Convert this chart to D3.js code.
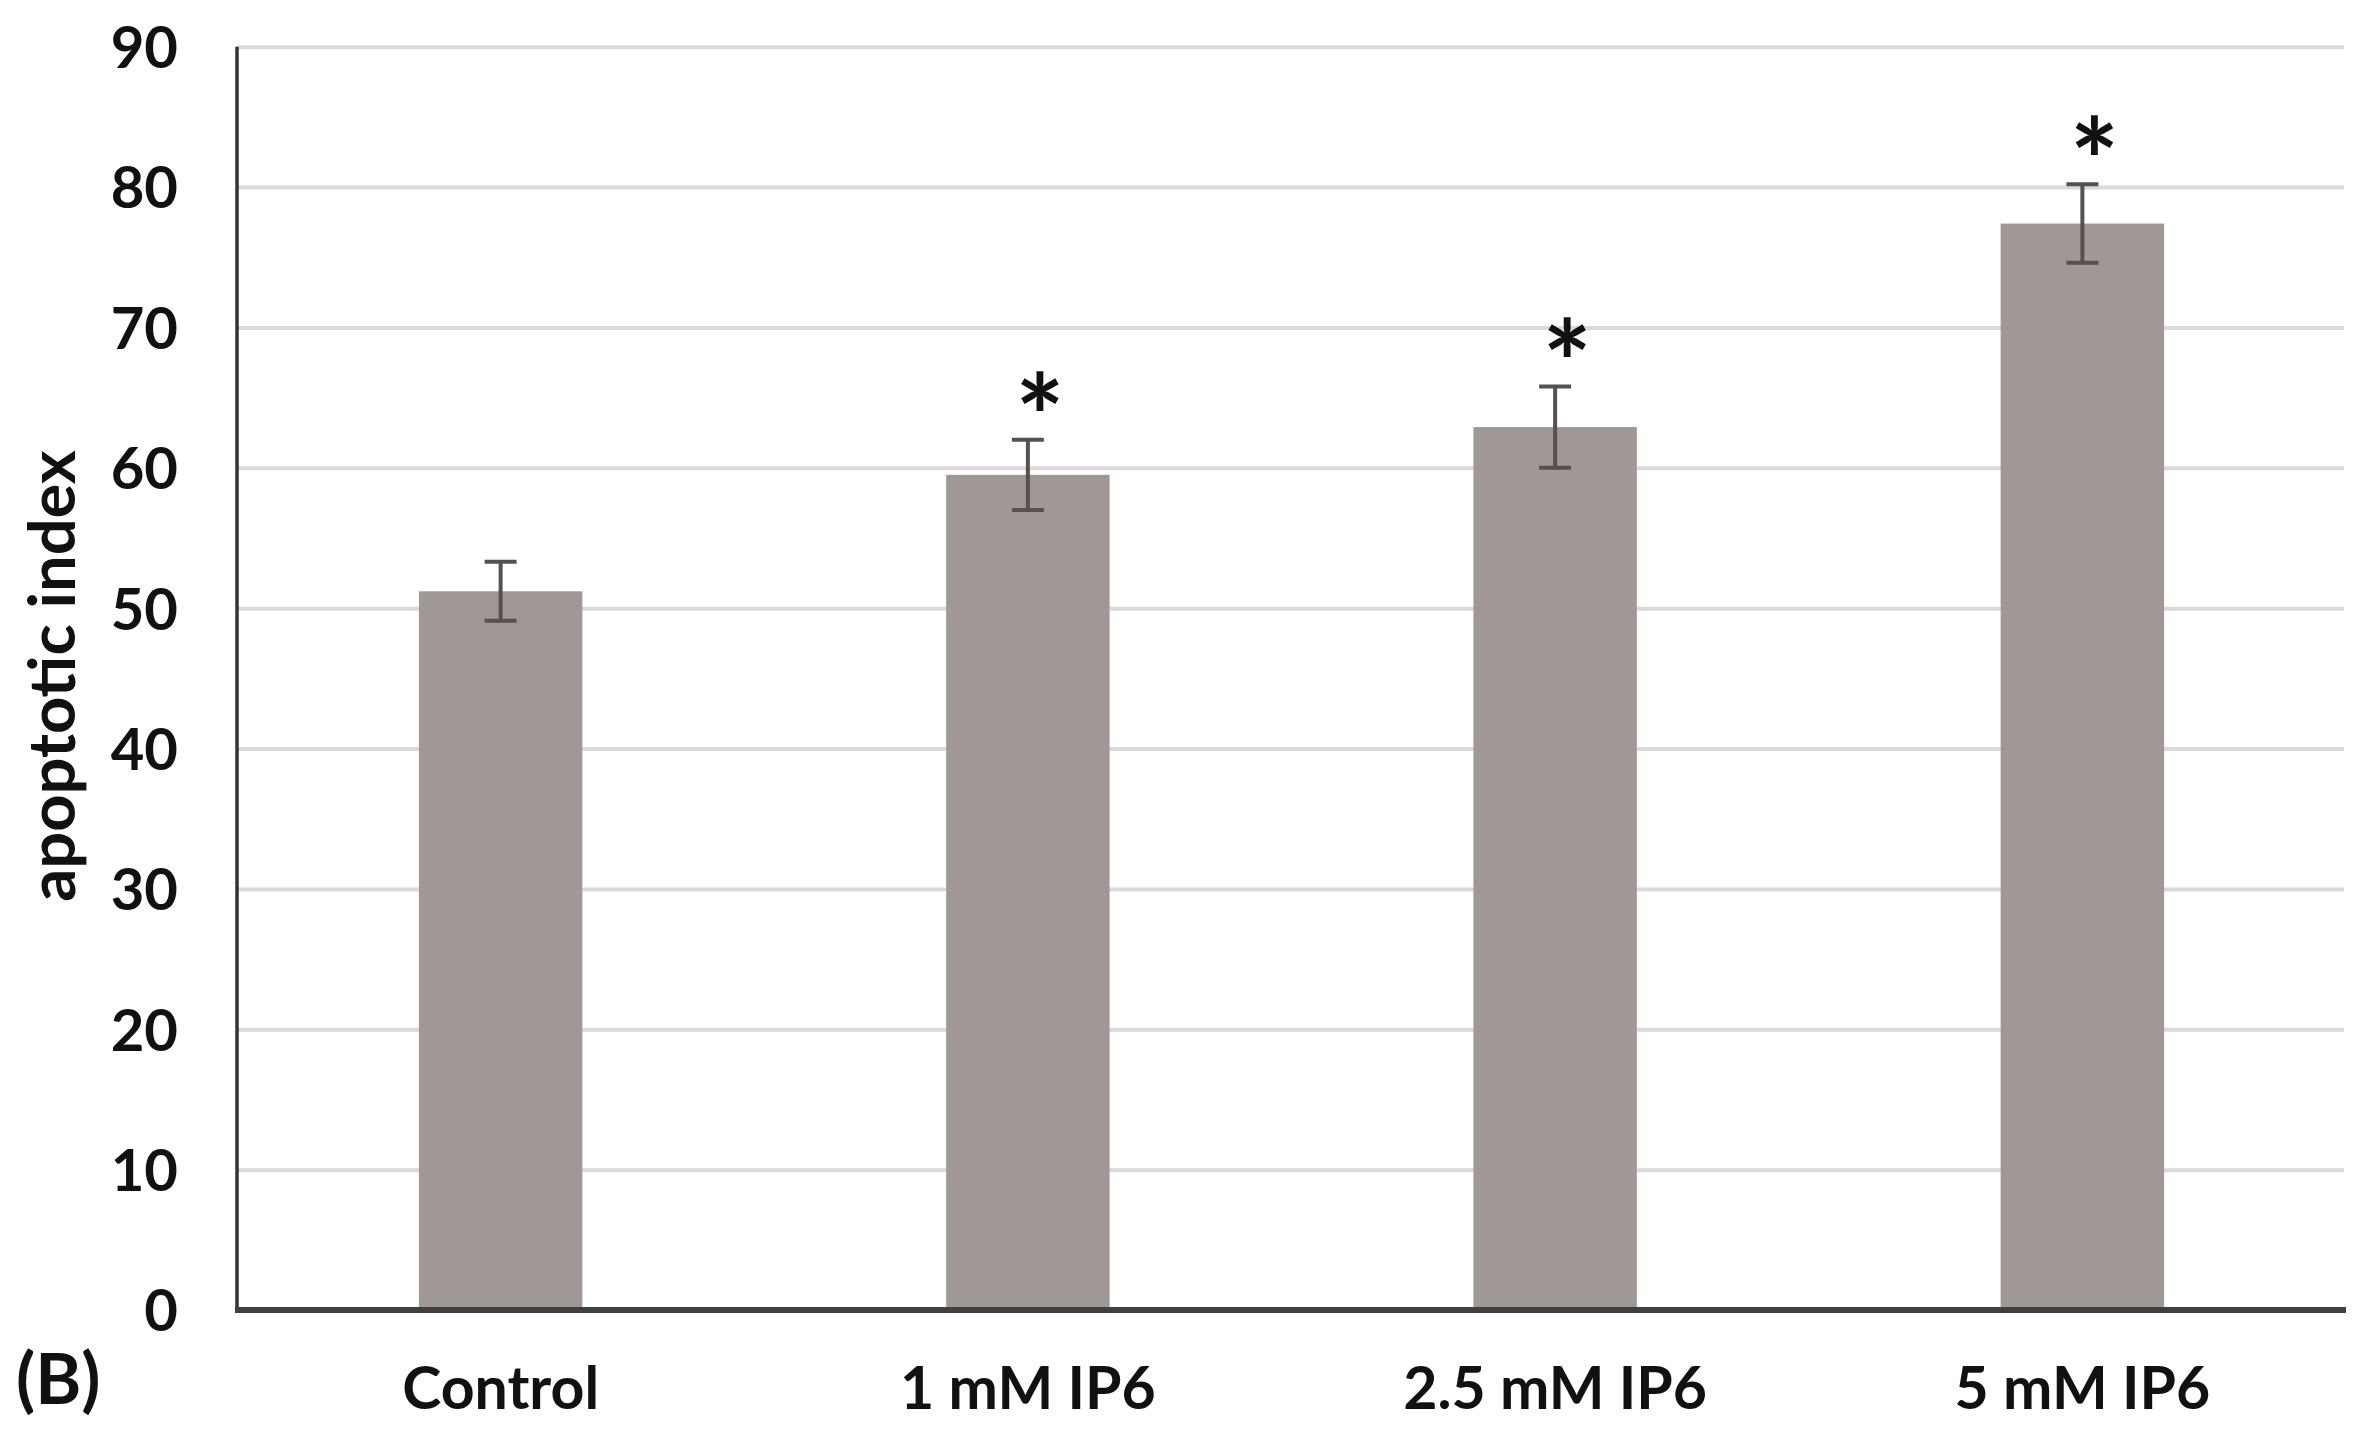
<!DOCTYPE html>
<html>
<head>
<meta charset="utf-8">
<script src="https://cdn.jsdelivr.net/npm/d3@7"></script>
<style>
  body { margin: 0; background: #fff; }
  text { font-family: Lato, "Open Sans", sans-serif; font-weight: 700; fill: #111; }
</style>
</head>
<body>
<svg id="chart" width="2369" height="1443"></svg>
<script>
/*------------------------
  -------- DATA ----------
  ------------------------*/
var categories = ["Control", "1 mM IP6", "2.5 mM IP6", "5 mM IP6"];
var means = [51.2, 59.5, 62.9, 77.4];
var errors = [2.1, 2.5, 2.9, 2.8];
var significant = [false, true, true, true];
var y_ticks = [0, 10, 20, 30, 40, 50, 60, 70, 80, 90];
var y_title = "apoptotic index";
var panel_label = "(B)";

var bars = categories.map(function(c, i) {
    return { name: c, mean: means[i], err: errors[i], star: significant[i] };
});

/*------------------------
  ------- SCALES ---------
  ------------------------*/
var left = 237, right = 2346, top_y = 46.7, bottom_y = 1310;

var x = d3.scaleBand()
    .domain(categories)
    .range([left, right])
    .paddingInner(0.69)
    .paddingOuter(0.345);

var y = d3.scaleLinear()
    .domain([0, 90])
    .range([bottom_y, top_y]);

var svg = d3.select("#chart");

/*------------------------
  ------- GRID -----------
  ------------------------*/
var grid = svg.append("g")
    .attr("transform", "translate(" + left + ",0)")
    .call(d3.axisLeft(y).tickValues(y_ticks.slice(1)).tickSize(-(right - 2 - left)).tickFormat(""));
grid.select(".domain").remove();
grid.selectAll("line")
    .attr("stroke", "#dcdad9")
    .attr("stroke-width", 4);

/*------------------------
  ------- BARS -----------
  ------------------------*/
var b_groups = svg.append("g")
    .selectAll(".bar")
    .data(bars)
    .enter()
    .append("g")
    .attr("class", "bar");

b_groups.append("rect")
    .attr("x", function(d) { return x(d.name); })
    .attr("y", function(d) { return y(d.mean); })
    .attr("width", x.bandwidth())
    .attr("height", function(d) { return y(0) - y(d.mean); })
    .attr("fill", "#a09894");

function mid(d) { return x(d.name) + x.bandwidth() / 2; }

var cap = 16;
b_groups.append("line")
    .attr("x1", mid).attr("x2", mid)
    .attr("y1", function(d) { return y(d.mean + d.err); })
    .attr("y2", function(d) { return y(d.mean - d.err); });
b_groups.append("line")
    .attr("x1", function(d) { return mid(d) - cap; })
    .attr("x2", function(d) { return mid(d) + cap; })
    .attr("y1", function(d) { return y(d.mean + d.err); })
    .attr("y2", function(d) { return y(d.mean + d.err); });
b_groups.append("line")
    .attr("x1", function(d) { return mid(d) - cap; })
    .attr("x2", function(d) { return mid(d) + cap; })
    .attr("y1", function(d) { return y(d.mean - d.err); })
    .attr("y2", function(d) { return y(d.mean - d.err); });
b_groups.selectAll("line")
    .attr("stroke", "#55514f")
    .attr("stroke-width", 4);

b_groups.filter(function(d) { return d.star; })
    .append("text")
    .text("*")
    .attr("x", function(d) { return mid(d) + 12; })
    .attr("y", function(d) { return y(d.mean + d.err) + 20; })
    .attr("text-anchor", "middle")
    .style("font-size", "116px");

/*------------------------
  ------- AXES -----------
  ------------------------*/
var y_axis = svg.append("g")
    .attr("transform", "translate(" + left + ",0)")
    .call(d3.axisLeft(y).tickValues(y_ticks).tickSize(0).tickPadding(59));
y_axis.select(".domain").remove();
y_axis.selectAll("text")
    .attr("dy", "0.36em")
    .style("font-size", "58px")
    .style("fill", "#111");

svg.append("line")
    .attr("x1", left).attr("x2", left)
    .attr("y1", top_y).attr("y2", bottom_y)
    .attr("stroke", "#333")
    .attr("stroke-width", 3.5);

var x_axis = svg.append("g")
    .attr("transform", "translate(0," + bottom_y + ")")
    .call(d3.axisBottom(x).tickSize(0).tickPadding(57));
x_axis.select(".domain").remove();
x_axis.selectAll("text")
    .style("font-size", "59px")
    .style("fill", "#111");

svg.append("line")
    .attr("x1", left - 2).attr("x2", right)
    .attr("y1", bottom_y).attr("y2", bottom_y)
    .attr("stroke", "#404040")
    .attr("stroke-width", 6);

svg.append("text")
    .attr("transform", "translate(75," + 676 + ") rotate(-90)")
    .attr("text-anchor", "middle")
    .style("font-size", "65px")
    .text(y_title);

svg.append("text")
    .attr("x", 16)
    .attr("y", 1404)
    .style("font-size", "70px")
    .text(panel_label);
</script>
</body>
</html>
